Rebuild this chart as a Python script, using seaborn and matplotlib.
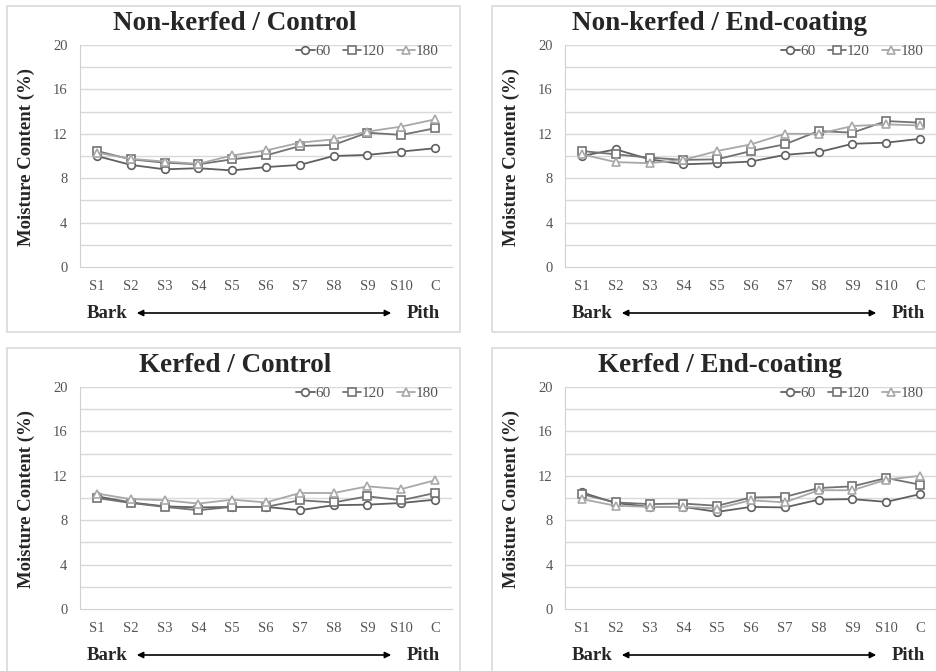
import numpy as np
import pandas as pd
import matplotlib
matplotlib.use("Agg")
import matplotlib.pyplot as plt
from matplotlib.patches import Rectangle
import seaborn as sns

# sampling positions, bark -> pith
positions = ["S1", "S2", "S3", "S4", "S5", "S6", "S7", "S8", "S9", "S10", "C"]
times = ["60", "120", "180"]

# moisture content (%) per panel and drying time
nk_control_60 = [10.0, 9.2, 8.8, 8.9, 8.7, 9.0, 9.2, 10.0, 10.1, 10.4, 10.7]
nk_control_120 = [10.45, 9.7, 9.4, 9.25, 9.7, 10.05, 10.9, 11.0, 12.1, 11.9, 12.5]
nk_control_180 = [10.3, 9.75, 9.5, 9.3, 10.05, 10.5, 11.2, 11.5, 12.2, 12.65, 13.3]

nk_coat_60 = [10.0, 10.6, 9.7, 9.25, 9.35, 9.5, 10.1, 10.35, 11.1, 11.2, 11.55]
nk_coat_120 = [10.45, 10.15, 9.85, 9.65, 9.7, 10.45, 11.05, 12.25, 12.1, 13.15, 13.0]
nk_coat_180 = [10.15, 9.45, 9.35, 9.65, 10.45, 11.05, 12.0, 12.0, 12.7, 12.85, 12.75]

k_control_60 = [10.15, 9.6, 9.25, 9.15, 9.2, 9.2, 8.9, 9.35, 9.4, 9.55, 9.85]
k_control_120 = [10.0, 9.55, 9.2, 8.9, 9.2, 9.2, 9.8, 9.6, 10.15, 9.8, 10.45]
k_control_180 = [10.4, 9.9, 9.8, 9.5, 9.85, 9.6, 10.45, 10.45, 11.05, 10.8, 11.6]

k_coat_60 = [10.5, 9.55, 9.2, 9.2, 8.75, 9.2, 9.15, 9.85, 9.9, 9.65, 10.35]
k_coat_120 = [10.35, 9.6, 9.45, 9.5, 9.3, 10.05, 10.1, 10.9, 11.05, 11.8, 11.2]
k_coat_180 = [9.9, 9.3, 9.2, 9.2, 9.05, 9.8, 9.6, 10.7, 10.7, 11.65, 12.0]

titles = ["Non-kerfed / Control", "Non-kerfed / End-coating",
          "Kerfed / Control", "Kerfed / End-coating"]
panel_data = [
    [nk_control_60, nk_control_120, nk_control_180],
    [nk_coat_60, nk_coat_120, nk_coat_180],
    [k_control_60, k_control_120, k_control_180],
    [k_coat_60, k_coat_120, k_coat_180],
]

W, H = 936, 671
serif = ["Liberation Serif", "DejaVu Serif"]
sns.set_style("white")
plt.rcParams["font.family"] = serif

colors = {"60": "#606060", "120": "#727272", "180": "#a8a8a8"}
markers = {"60": "o", "120": "s", "180": "^"}

fig = plt.figure(figsize=(W / 100, H / 100), dpi=100)


def fx(x):
    return x / W


def fy(y):
    return 1 - y / H


# panel offsets in pixels (dx, dy)
offsets = [(0, 0), (485, 0), (0, 342), (485, 342)]

for i, (dx, dy) in enumerate(offsets):
    # outer chart border
    fig.patches.append(Rectangle((fx(7 + dx), fy(332 + dy)), fx(453), 326 / H,
                                 transform=fig.transFigure, fill=False,
                                 edgecolor="#d9d9d9", lw=1.2, zorder=0))

    left, right, top, bottom = 80 + dx, 452 + dx, 45 + dy, 267 + dy
    ax = fig.add_axes([fx(left), fy(bottom), fx(right - left), (bottom - top) / H])

    rows = []
    for t, vals in zip(times, panel_data[i]):
        for p, v in zip(positions, vals):
            rows.append({"pos": p, "mc": v, "time": t})
    df = pd.DataFrame(rows)

    sns.lineplot(data=df, x="pos", y="mc", hue="time", style="time",
                 palette=colors, markers=markers, dashes=False,
                 lw=1.3, markersize=5.5, legend=False, ax=ax, zorder=3)
    for ln in ax.lines:
        c = ln.get_color()
        ln.set_markerfacecolor("white")
        ln.set_markeredgecolor(c)
        ln.set_markeredgewidth(1.2)

    ax.set_xlim(-0.5, 10.5)
    ax.set_ylim(0, 20)
    ax.set_yticks([0, 4, 8, 12, 16, 20])
    for g in range(2, 21, 2):
        ax.axhline(g, color="#d9d9d9", lw=1, zorder=1)
    ax.set_xlabel("")
    ax.set_ylabel("")
    for s in ["top", "right"]:
        ax.spines[s].set_visible(False)
    ax.spines["left"].set_color("#d0d0d0")
    ax.spines["bottom"].set_color("#d0d0d0")
    ax.tick_params(axis="y", length=3, color="#d0d0d0", labelsize=10.5,
                   labelcolor="#555555", pad=6)
    ax.tick_params(axis="x", length=0, labelsize=10.5, labelcolor="#555555", pad=9)
    for lab in ax.get_xticklabels() + ax.get_yticklabels():
        lab.set_family(serif)

    ax.legend(ax.lines, times, loc="upper right", bbox_to_anchor=(1.002, 1.065),
              ncol=3, frameon=False, handlelength=1.2, handletextpad=0.05,
              columnspacing=0.8, prop={"family": serif, "size": 11},
              labelcolor="#555555")

    fig.text(fx(235 + dx), fy(24 + dy), titles[i], ha="center", va="center",
             fontsize=19.5, fontweight="bold", family=serif)
    fig.text(fx(26 + dx), fy(157 + dy), "Moisture Content (%)", ha="center",
             va="center", rotation=90, fontsize=13.5, fontweight="bold", family=serif)

    fig.text(fx(87 + dx), fy(313 + dy), "Bark", ha="left", va="center",
             fontsize=13.5, fontweight="bold", family=serif)
    fig.text(fx(440 + dx), fy(313 + dy), "Pith", ha="right", va="center",
             fontsize=13.5, fontweight="bold", family=serif)
    fig.add_artist(matplotlib.patches.FancyArrowPatch(
        (fx(134 + dx), fy(313 + dy)), (fx(394 + dx), fy(313 + dy)),
        transform=fig.transFigure, arrowstyle="<|-|>", mutation_scale=9,
        color="black", lw=1.2))

fig.savefig("out.png", dpi=100)
